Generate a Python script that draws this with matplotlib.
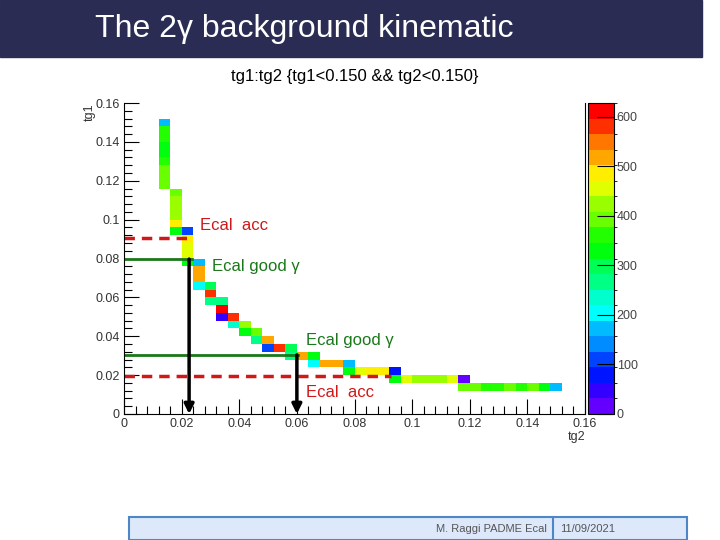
import colorsys
import numpy as np
import matplotlib
matplotlib.use('Agg')
import matplotlib.pyplot as plt
from matplotlib.colors import ListedColormap, BoundaryNorm
from matplotlib.patches import Rectangle

plt.rcParams['font.family'] = ['Liberation Sans', 'DejaVu Sans']

# filled bins (bin width 0.004): tg2 centre, tg1 centre, entries
tg2 = [0.014] * 9 + [0.018] * 6 + [0.022] * 5 + [0.026] * 4 + [0.030] * 3 + [0.034] * 3 \
    + [0.038] * 2 + [0.042] * 2 + [0.046] * 2 + [0.050] * 2 + [0.054] + [0.058] * 2 + [0.062] \
    + [0.066] * 2 + [0.070, 0.074] + [0.078] * 2 + [0.082, 0.086, 0.090] + [0.094] * 2 \
    + [0.098, 0.102, 0.106, 0.110, 0.114] + [0.118] * 2 \
    + [0.122, 0.126, 0.130, 0.134, 0.138, 0.142, 0.146, 0.150]
tg1 = [0.118, 0.122, 0.126, 0.130, 0.134, 0.138, 0.142, 0.146, 0.150,
       0.094, 0.098, 0.102, 0.106, 0.110, 0.114,
       0.078, 0.082, 0.086, 0.090, 0.094,
       0.066, 0.070, 0.074, 0.078,
       0.058, 0.062, 0.066,
       0.050, 0.054, 0.058,
       0.046, 0.050,
       0.042, 0.046,
       0.038, 0.042,
       0.034, 0.038,
       0.034,
       0.030, 0.034,
       0.030,
       0.026, 0.030,
       0.026, 0.026,
       0.022, 0.026,
       0.022, 0.022, 0.022,
       0.018, 0.022,
       0.018, 0.018, 0.018, 0.018, 0.018,
       0.014, 0.018,
       0.014, 0.014, 0.014, 0.014, 0.014, 0.014, 0.014, 0.014]
counts = [395, 390, 388, 360, 335, 328, 365, 358, 172,
          330, 490, 420, 425, 428, 395,
          332, 455, 460, 485, 108,
          205, 520, 515, 172,
          268, 580, 300,
          45, 612, 265,
          236, 582,
          330, 425,
          268, 395,
          108, 520,
          585,
          268, 300,
          520,
          205, 330,
          518, 522,
          332, 172,
          455, 488, 485,
          330, 78,
          455, 425, 422, 428, 458,
          392, 16,
          395, 360, 362, 392, 360, 394, 335, 172]

z_max = 628
n_levels = 20
z_ticks = [0, 100, 200, 300, 400, 500, 600]
axis_ticks = [0, 0.02, 0.04, 0.06, 0.08, 0.1, 0.12, 0.14, 0.16]
tick_text = ['0', '0.02', '0.04', '0.06', '0.08', '0.1', '0.12', '0.14', '0.16']

# ROOT "pretty palette": 50 hues violet->red, 20 contour levels
pretty = [colorsys.hls_to_rgb((280 - (i + 1) * 280 / 50) / 360, 0.5, 1) for i in range(50)]
level_colors = [pretty[int((k + 0.99) * 50 / n_levels)] for k in range(n_levels)]
cmap = ListedColormap(level_colors)
norm = BoundaryNorm(np.linspace(0, z_max, n_levels + 1), n_levels)

W, H = 720, 540
fig = plt.figure(figsize=(7.2, 5.4), dpi=100)


def fx(px):
    return px / W


def fy(py):
    return 1 - py / H


# slide banner
fig.patches.append(Rectangle((0, fy(57)), fx(702), 57 / H, transform=fig.transFigure,
                             color='#2a2c54', zorder=0))
fig.text(fx(95), fy(29), 'The 2γ background kinematic', color='white', fontsize=23,
         ha='left', va='center')
fig.text(fx(355), fy(76), 'tg1:tg2 {tg1<0.150 && tg2<0.150}', fontsize=12,
         ha='center', va='center')

ax = fig.add_axes([fx(124), fy(414), (585 - 124) / W, (414 - 103) / H])
h = ax.hist2d(tg2, tg1, bins=40, range=[[0, 0.16], [0, 0.16]], weights=counts,
              cmap=cmap, norm=norm, cmin=1)

ax.set_xlim(0, 0.16)
ax.set_ylim(0, 0.16)
ax.set_xticks(axis_ticks)
ax.set_xticklabels(tick_text)
ax.set_yticks(axis_ticks)
ax.set_yticklabels(tick_text)
ax.set_xticks(np.arange(0, 0.1601, 0.004), minor=True)
ax.set_yticks(np.arange(0, 0.1601, 0.004), minor=True)
ax.tick_params(which='major', direction='in', length=11, width=0.8, labelsize=9,
               labelcolor='#333333', pad=3)
ax.tick_params(which='minor', direction='in', length=6, width=0.8)
ax.spines['top'].set_visible(False)
ax.text(1.0, -0.055, 'tg2', transform=ax.transAxes, ha='right', va='top', fontsize=9,
        color='#333333')
ax.text(-0.075, 1.0, 'tg1', transform=ax.transAxes, ha='center', va='top', fontsize=9,
        rotation=90, color='#333333')

# acceptance / good-photon markers
red = '#d01818'
green = '#1a781a'
ax.plot([0, 0.024], [0.0905, 0.0905], color=red, lw=2.5, ls=(0, (3, 2)))
ax.plot([0, 0.0925], [0.0197, 0.0197], color=red, lw=2.5, ls=(0, (3, 2)))
ax.plot([0, 0.0236], [0.0797, 0.0797], color=green, lw=2)
ax.plot([0, 0.0604], [0.0304, 0.0304], color=green, lw=2)
for xa, ya in [(0.0226, 0.0797), (0.0600, 0.0304)]:
    ax.annotate('', xy=(xa, 0.0), xytext=(xa, ya),
                arrowprops=dict(arrowstyle='-|>', color='black', lw=2.5,
                                mutation_scale=14, shrinkA=0, shrinkB=0),
                annotation_clip=False)
ax.text(0.0264, 0.0972, 'Ecal  acc', color=red, fontsize=12, ha='left', va='center')
ax.text(0.0305, 0.0761, 'Ecal good γ', color=green, fontsize=12, ha='left', va='center')
ax.text(0.0632, 0.0376, 'Ecal good γ', color=green, fontsize=12, ha='left', va='center')
ax.text(0.0632, 0.0113, 'Ecal  acc', color=red, fontsize=12, ha='left', va='center')

# palette axis
cax = fig.add_axes([fx(588), fy(414), (614 - 588) / W, (414 - 103) / H])
cb = fig.colorbar(h[3], cax=cax, ticks=z_ticks)
cb.outline.set_linewidth(0.8)
cax.tick_params(direction='in', length=12, width=0.8, labelsize=9, labelcolor='#444444', pad=2)

# footer
fig.patches.append(Rectangle((fx(129), fy(540)), (687 - 129) / W, 23 / H,
                             transform=fig.transFigure, facecolor='#dde9fb',
                             edgecolor='#4f86c6', lw=1.5, zorder=0))
fig.lines.append(plt.Line2D([fx(553), fx(553)], [fy(540), fy(517)], transform=fig.transFigure,
                            color='#4f86c6', lw=1.5))
fig.text(fx(547), fy(529), 'M. Raggi PADME Ecal', fontsize=8, color='#555555',
         ha='right', va='center')
fig.text(fx(560), fy(529), '11/09/2021', fontsize=8, color='#555555', ha='left', va='center')

fig.savefig('out.png', dpi=100)
